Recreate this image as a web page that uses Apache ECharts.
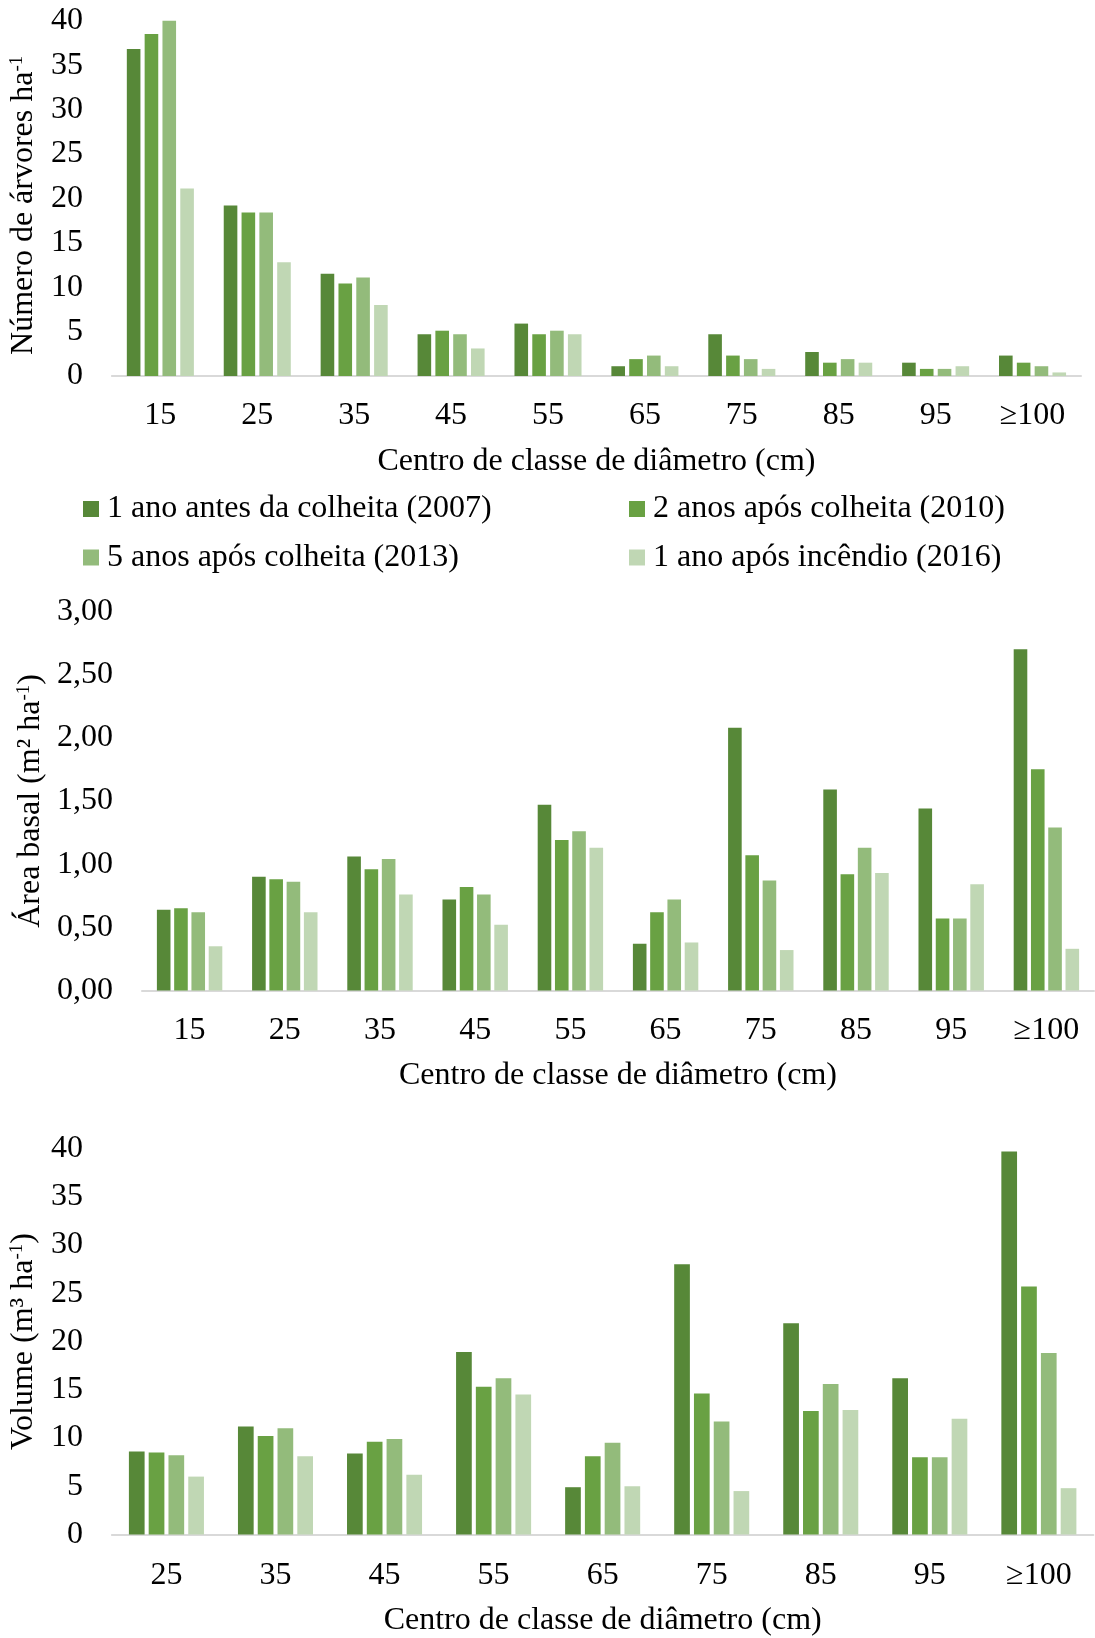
<!DOCTYPE html>
<html>
<head>
<meta charset="utf-8">
<script src="https://cdn.jsdelivr.net/npm/echarts@6/dist/echarts.min.js"></script>
<style>
  html, body { margin: 0; padding: 0; background: #fff; }
  #chart { width: 1095px; height: 1638px; }
</style>
</head>
<body>
<div id="chart"></div>
<script>
// Diameter classes (cm)
const classesArvores = ['15', '25', '35', '45', '55', '65', '75', '85', '95', '≥100'];
const classesArea = ['15', '25', '35', '45', '55', '65', '75', '85', '95', '≥100'];
const classesVolume = ['25', '35', '45', '55', '65', '75', '85', '95', '≥100'];

const seriesNames = [
  '1 ano antes da colheita (2007)',
  '2 anos após colheita (2010)',
  '5 anos após colheita (2013)',
  '1 ano após incêndio (2016)'
];

// Número de árvores por hectare
const arvores2007 = [36.8, 19.2, 11.5, 4.7, 5.9, 1.1, 4.7, 2.7, 1.5, 2.3];
const arvores2010 = [38.5, 18.4, 10.4, 5.1, 4.7, 1.9, 2.3, 1.5, 0.8, 1.5];
const arvores2013 = [40.0, 18.4, 11.1, 4.7, 5.1, 2.3, 1.9, 1.9, 0.8, 1.1];
const arvores2016 = [21.1, 12.8, 8.0, 3.1, 4.7, 1.1, 0.8, 1.5, 1.1, 0.4];

// Área basal (m² ha-1)
const area2007 = [0.64, 0.90, 1.06, 0.72, 1.47, 0.37, 2.08, 1.59, 1.44, 2.70];
const area2010 = [0.65, 0.88, 0.96, 0.82, 1.19, 0.62, 1.07, 0.92, 0.57, 1.75];
const area2013 = [0.62, 0.86, 1.04, 0.76, 1.26, 0.72, 0.87, 1.13, 0.57, 1.29];
const area2016 = [0.35, 0.62, 0.76, 0.52, 1.13, 0.38, 0.32, 0.93, 0.84, 0.33];

// Volume (m³ ha-1)
const volume2007 = [8.6, 11.2, 8.4, 18.9, 4.9, 28.0, 21.9, 16.2, 39.7];
const volume2010 = [8.5, 10.2, 9.6, 15.3, 8.1, 14.6, 12.8, 8.0, 25.7];
const volume2013 = [8.2, 11.0, 9.9, 16.2, 9.5, 11.7, 15.6, 8.0, 18.8];
const volume2016 = [6.0, 8.1, 6.2, 14.5, 5.0, 4.5, 12.9, 12.0, 4.8];

// [min, max, interval] of each value axis
const ticksArvores = [0, 40, 5];
const ticksArea = [0, 3, 0.5];
const ticksVolume = [0, 40, 5];

const colors = ['#578838', '#69a143', '#93bb7b', '#c0d7b4'];
const FONT = '"Liberation Serif", "Times New Roman", serif';
const FS = 32;
const TXT = '#000';

const baseText = { fontFamily: FONT, fontSize: FS, color: TXT };
const supRich = {
  t: { fontFamily: FONT, fontSize: FS, color: TXT },
  s: { fontFamily: FONT, fontSize: 19, color: TXT, lineHeight: 12, verticalAlign: 'top' }
};

function xAxisFor(idx, cats, labelMargin, nameGap) {
  return {
    type: 'category',
    gridIndex: idx,
    data: cats,
    axisLine: { show: true, lineStyle: { color: '#d9d9d9', width: 2 } },
    axisTick: { show: false },
    axisLabel: Object.assign({ margin: labelMargin, interval: 0 }, baseText),
    name: 'Centro de classe de diâmetro (cm)',
    nameLocation: 'middle',
    nameGap: nameGap,
    nameTextStyle: Object.assign({}, baseText)
  };
}

function yAxisFor(idx, ticks, name, nameGap, namePadding, formatter) {
  return {
    type: 'value',
    gridIndex: idx,
    min: ticks[0],
    max: ticks[1],
    interval: ticks[2],
    splitLine: { show: false },
    axisLine: { show: false },
    axisTick: { show: false },
    axisLabel: Object.assign({ margin: 29, formatter: formatter }, baseText),
    name: name,
    nameLocation: 'middle',
    nameGap: nameGap,
    nameTextStyle: Object.assign({ rich: supRich, padding: namePadding }, baseText)
  };
}

function barSeries(idx, lists, width, gap) {
  return lists.map((values, i) => ({
    type: 'bar',
    name: seriesNames[i],
    xAxisIndex: idx,
    yAxisIndex: idx,
    data: values,
    barWidth: width,
    barGap: gap,
    itemStyle: { color: colors[i] },
    emphasis: { disabled: true }
  }));
}

function legendItem(i, left, top) {
  return {
    data: [seriesNames[i]],
    left: left,
    top: top,
    padding: 0,
    icon: 'rect',
    itemWidth: 16,
    itemHeight: 16,
    selectedMode: false,
    textStyle: Object.assign({ lineHeight: 32, padding: [2, 0, 0, 3] }, baseText)
  };
}

const option = {
  animation: false,
  backgroundColor: '#ffffff',
  color: colors,
  grid: [
    { left: 108, top: 20.7, width: 973, height: 355.3 },
    { left: 142, top: 611.4, width: 952, height: 379.1 },
    { left: 111.4, top: 1148.5, width: 982, height: 390 }
  ],
  legend: [
    legendItem(0, 83, 492),
    legendItem(1, 629, 492),
    legendItem(2, 83, 540.5),
    legendItem(3, 629, 540.5)
  ],
  xAxis: [
    xAxisFor(0, classesArvores, 23.5, 69.5),
    xAxisFor(1, classesArea, 24.5, 69.5),
    xAxisFor(2, classesVolume, 25.5, 70.5)
  ],
  yAxis: [
    yAxisFor(0, ticksArvores, '{t|Número de árvores ha}{s|-1}', 68.5, [0, 14, 0, 0]),
    yAxisFor(1, ticksArea, '{t|Área basal (m² ha}{s|-1}{t|)}', 94.5, [0, 0, 0, 0],
      v => v.toFixed(2).replace('.', ',')),
    yAxisFor(2, ticksVolume, '{t|Volume (m³ ha}{s|-1}{t|)}', 68.5, [0, 0, 0, 0])
  ],
  series: [].concat(
    barSeries(0, [arvores2007, arvores2010, arvores2013, arvores2016], 13.6, '31%'),
    barSeries(1, [area2007, area2010, area2013, area2016], 13.6, '27%'),
    barSeries(2, [volume2007, volume2010, volume2013, volume2016], 15.7, '26%')
  )
};

const chart = echarts.init(document.getElementById('chart'), null, { renderer: 'canvas' });
chart.setOption(option);
</script>
</body>
</html>
